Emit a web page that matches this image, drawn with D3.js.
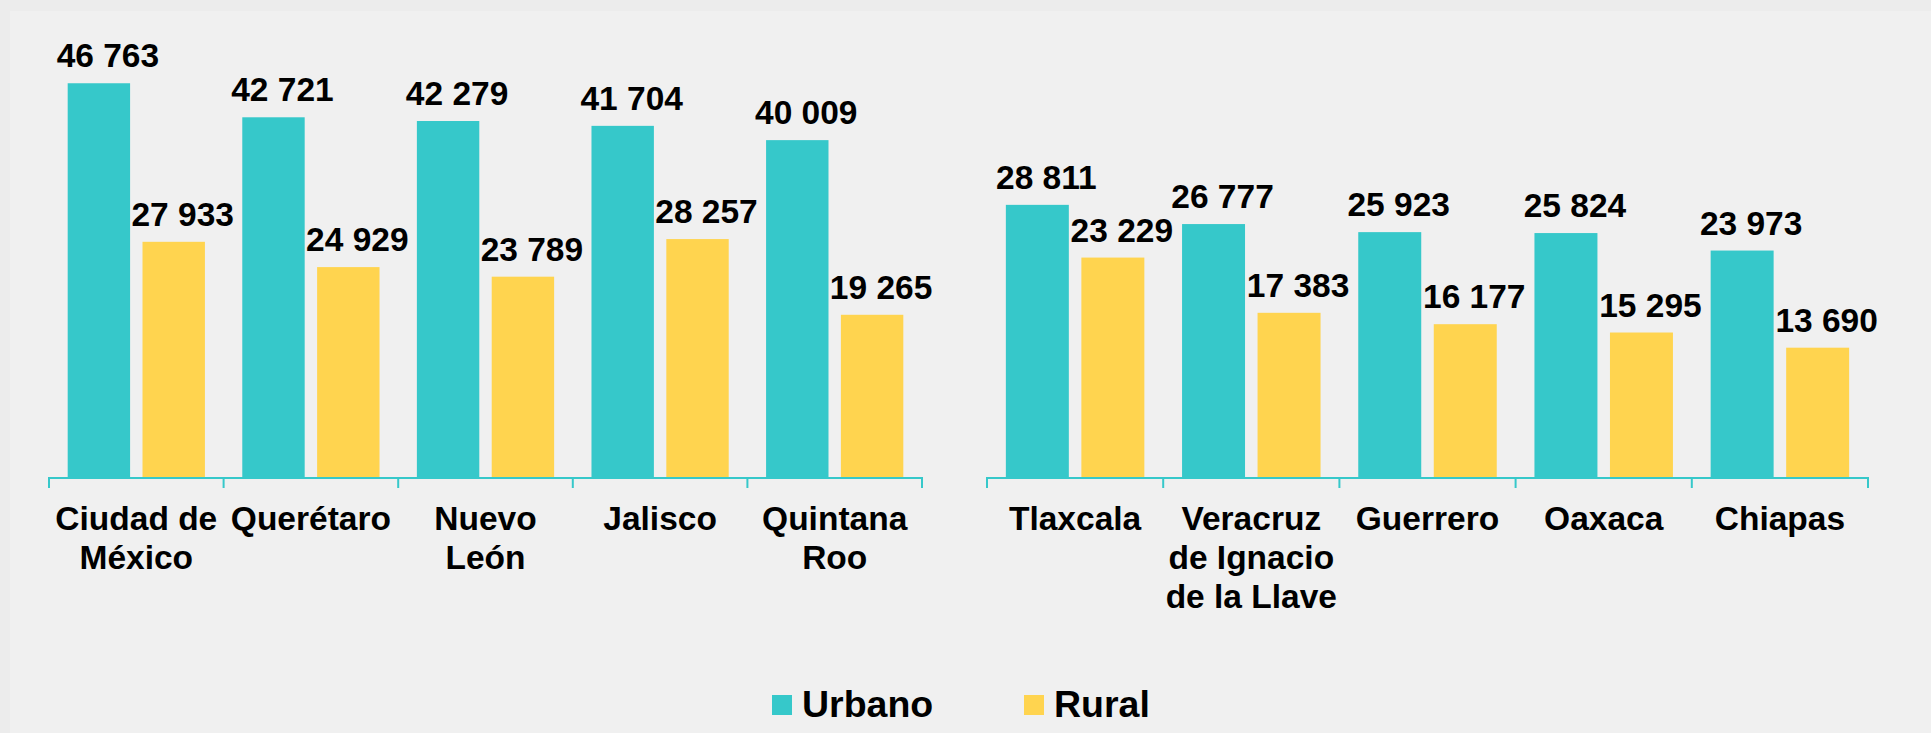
<!DOCTYPE html>
<html>
<head>
<meta charset="utf-8">
<script src="https://cdn.jsdelivr.net/npm/d3@7"></script>
<style>
  html, body { margin: 0; padding: 0; background: #ececec; }
  svg { display: block; font-family: "Liberation Sans", Arial, sans-serif; }
</style>
</head>
<body>
<div id="chart"></div>
<script>
// Chart data, two panels: top five and bottom five states
var leftStates = [["Ciudad de", "México"], ["Querétaro"], ["Nuevo", "León"], ["Jalisco"], ["Quintana", "Roo"]];
var leftUrbano = [46763, 42721, 42279, 41704, 40009];
var leftRural = [27933, 24929, 23789, 28257, 19265];

var rightStates = [["Tlaxcala"], ["Veracruz", "de Ignacio", "de la Llave"], ["Guerrero"], ["Oaxaca"], ["Chiapas"]];
var rightUrbano = [28811, 26777, 25923, 25824, 23973];
var rightRural = [23229, 17383, 16177, 15295, 13690];

var seriesNames = ["Urbano", "Rural"];
var colors = { Urbano: "#36c8ca", Rural: "#ffd44f" };

var svgWidth = 1931;
var svgHeight = 733;
var baseY = 477;

var svg = d3.select("#chart")
  .append("svg")
  .attr("width", svgWidth)
  .attr("height", svgHeight);

// inner panel background
svg.append("rect")
  .attr("x", 10)
  .attr("y", 11)
  .attr("width", svgWidth - 10)
  .attr("height", svgHeight - 11)
  .attr("fill", "#f0f0f0");

// fmt with a space as thousands separator
var fmt = d3.formatLocale({ decimal: ",", thousands: " ", grouping: [3], currency: ["", ""] }).format(",d");

function drawPanel(states, urbano, rural, x0, x1, yTop) {
  var rows = states.map(function (s, i) {
    return { name: s.join(" "), lines: s, Urbano: urbano[i], Rural: rural[i] };
  });

  var x = d3.scaleBand()
    .domain(rows.map(d => d.name))
    .range([x0, x1])
    .padding(0);

  var bw = x.bandwidth();
  var xSub = d3.scaleBand()
    .domain(seriesNames)
    .range([bw * 0.107, bw * 0.893])
    .paddingInner(0.166)
    .paddingOuter(0);

  var y = d3.scaleLinear()
    .domain([0, 50000])
    .range([baseY, yTop]);

  var g = svg.append("g");

  var groups = g.selectAll("g.cat")
    .data(rows)
    .enter()
    .append("g")
    .attr("class", "cat")
    .attr("transform", d => `translate(${x(d.name)},0)`);

  var bars = groups.selectAll("g.bar")
    .data(d => seriesNames.map(k => ({ key: k, value: d[k] })))
    .enter()
    .append("g")
    .attr("class", "bar");

  bars.append("rect")
    .attr("x", d => xSub(d.key))
    .attr("y", d => y(d.value))
    .attr("width", xSub.bandwidth())
    .attr("height", d => baseY - y(d.value))
    .attr("fill", d => colors[d.key]);

  bars.append("text")
    .attr("x", d => xSub(d.key) + xSub.bandwidth() / 2 + 9)
    .attr("y", d => y(d.value) - 16)
    .attr("text-anchor", "middle")
    .attr("font-size", "33.5px")
    .attr("font-weight", "bold")
    .attr("fill", "#000")
    .text(d => fmt(d.value));

  // axis line and boundary ticks
  g.append("line")
    .attr("x1", x0)
    .attr("x2", x1)
    .attr("y1", baseY + 1)
    .attr("y2", baseY + 1)
    .attr("stroke", colors.Urbano)
    .attr("stroke-width", 2);

  var bounds = rows.map(d => x(d.name)).concat([x1]);
  g.selectAll("line.tick")
    .data(bounds)
    .enter()
    .append("line")
    .attr("class", "tick")
    .attr("x1", d => d)
    .attr("x2", d => d)
    .attr("y1", baseY)
    .attr("y2", baseY + 11)
    .attr("stroke", colors.Urbano)
    .attr("stroke-width", 2);

  // category labels
  var labels = groups.append("text")
    .attr("text-anchor", "middle")
    .attr("font-size", "33.5px")
    .attr("font-weight", "bold")
    .attr("fill", "#000");

  labels.selectAll("tspan")
    .data(d => d.lines)
    .enter()
    .append("tspan")
    .attr("x", bw / 2)
    .attr("y", (d, i) => 530 + i * 39)
    .text(d => d);
}

drawPanel(leftStates, leftUrbano, leftRural, 49, 922, 56);
drawPanel(rightStates, rightUrbano, rightRural, 987, 1868, 4.7);

// legend
var legend = svg.append("g");
var legendX = [772, 1024];
seriesNames.forEach(function (k, i) {
  legend.append("rect")
    .attr("x", legendX[i])
    .attr("y", 695)
    .attr("width", 20)
    .attr("height", 20)
    .attr("fill", colors[k]);
  legend.append("text")
    .attr("x", legendX[i] + 30)
    .attr("y", 717)
    .attr("font-size", "37.5px")
    .attr("font-weight", "bold")
    .attr("fill", "#000")
    .text(k);
});
</script>
</body>
</html>
